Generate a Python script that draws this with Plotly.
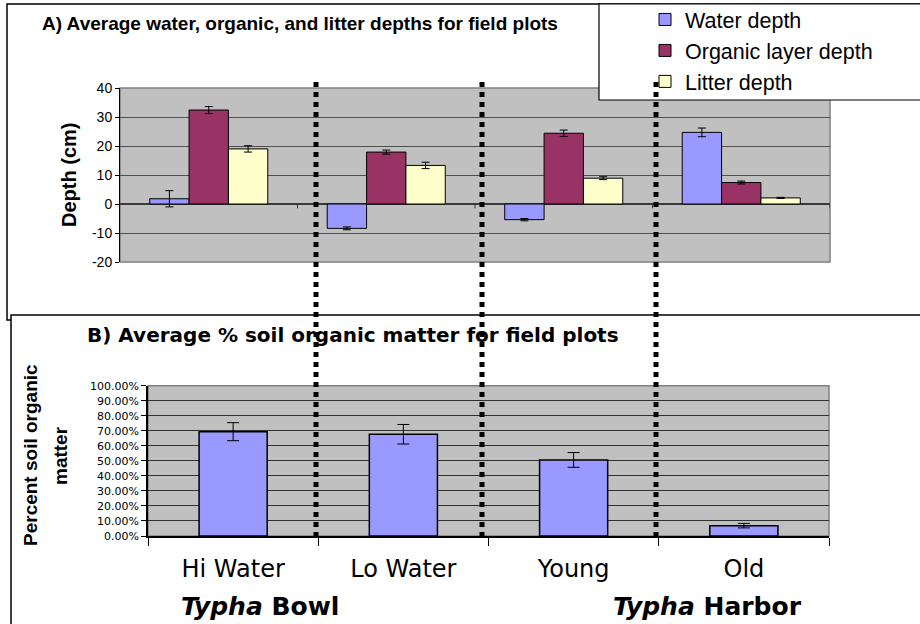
import plotly.graph_objects as go

# Field plot sites
categories = ["Hi Water", "Lo Water", "Young", "Old"]

# A) depths (cm) with error bars
water_depth = [1.8, -8.4, -5.4, 24.7]
water_err = [2.8, 0.5, 0.4, 1.5]
organic_depth = [32.4, 17.9, 24.4, 7.4]
organic_err = [1.2, 0.7, 1.1, 0.5]
litter_depth = [19.0, 13.3, 8.9, 2.1]
litter_err = [1.1, 1.1, 0.5, 0.2]
depth_ticks = [-20, -10, 0, 10, 20, 30, 40]
depth_tick_labels = ["-20", "-10", "0", "10", "20", "30", "40"]

# B) percent soil organic matter (fraction)
soil_om = [0.694, 0.677, 0.506, 0.069]
soil_om_err = [0.060, 0.065, 0.049, 0.015]

# Site groups written under the bottom panel
site_groups = ["Typha Bowl", "Typha Harbor"]

W, H = 920, 624


def fx(x):
    return x / W


def fy(y):
    return 1 - y / H


ARIAL = "Liberation Sans, Arial, sans-serif"
WIDE = "DejaVu Sans, Verdana, sans-serif"

fig = go.Figure()


def err(a, w):
    return dict(type="data", array=a, visible=True, color="black", thickness=1, width=w)


series = [
    ("Water depth", water_depth, water_err, "#9999FF"),
    ("Organic layer depth", organic_depth, organic_err, "#993366"),
    ("Litter depth", litter_depth, litter_err, "#FFFFCC"),
]
for name, vals, e, col in series:
    fig.add_trace(go.Bar(
        x=categories, y=vals, name=name, error_y=err(e, 4),
        marker=dict(color=col, line=dict(color="black", width=1)),
        xaxis="x", yaxis="y",
    ))

fig.add_trace(go.Bar(
    x=categories, y=soil_om, name="% soil organic matter", showlegend=False,
    width=0.4, error_y=err(soil_om_err, 6),
    marker=dict(color="#9999FF", line=dict(color="black", width=1.5)),
    xaxis="x2", yaxis="y2",
))

fig.update_layout(
    width=W, height=H,
    margin=dict(l=0, r=0, t=0, b=0, autoexpand=False),
    paper_bgcolor="white",
    plot_bgcolor="#C0C0C0",
    barmode="group", bargap=0.335, bargroupgap=0,
    font=dict(family=ARIAL, color="black"),
    showlegend=True,
    legend=dict(
        x=fx(645), y=fy(-1), xanchor="left", yanchor="top",
        bgcolor="rgba(0,0,0,0)", borderwidth=0,
        font=dict(family=ARIAL, size=21.5, color="black"),
        traceorder="normal",
    ),
    xaxis=dict(
        domain=[fx(120), fx(830)], anchor="y", type="category",
        categoryorder="array", categoryarray=categories,
        range=[-0.5, len(categories) - 0.5], automargin=False,
        showticklabels=False, showgrid=False, ticks="", zeroline=False,
    ),
    yaxis=dict(
        domain=[fy(262), fy(88)], anchor="x", automargin=False,
        range=[-20, 40], tickmode="array",
        tickvals=depth_ticks, ticktext=depth_tick_labels,
        showgrid=True, gridcolor="#505050", gridwidth=1,
        zeroline=True, zerolinecolor="#3a3a3a", zerolinewidth=1.5,
        showline=True, linecolor="black", linewidth=1,
        ticks="outside", ticklen=4, tickcolor="black",
        tickfont=dict(family=ARIAL, size=14, color="black"),
    ),
    xaxis2=dict(
        domain=[fx(148), fx(829)], anchor="y2", type="category",
        categoryorder="array", categoryarray=categories,
        range=[-0.5, len(categories) - 0.5], automargin=False,
        tickson="boundaries", ticks="outside", ticklen=8, tickcolor="black",
        showline=True, linecolor="black", linewidth=1.5,
        showgrid=False, zeroline=False,
        tickfont=dict(family=WIDE, size=24, color="black"),
        ticklabelstandoff=10,
    ),
    yaxis2=dict(
        domain=[fy(536), fy(385.7)], anchor="x2", automargin=False,
        range=[0, 1], dtick=0.1, tick0=0, tickformat=".2%",
        showgrid=True, gridcolor="#303030", gridwidth=1,
        zeroline=False,
        showline=True, linecolor="black", linewidth=1.5,
        ticks="outside", ticklen=5, tickcolor="black",
        tickfont=dict(family=WIDE, size=11, color="black"),
    ),
)

shapes = []
# grey plot-area borders
for xr, yr in (("x", "y"), ("x2", "y2")):
    shapes.append(dict(type="rect", xref=f"{xr} domain", yref=f"{yr} domain",
                       x0=0, x1=1, y0=0, y1=1, layer="below",
                       line=dict(color="#808080", width=1.5)))
# small ticks on the zero line of panel A at category boundaries
for i in range(1, len(categories) + 1):
    shapes.append(dict(type="line", xref="x", yref="y", x0=i - 0.5, x1=i - 0.5,
                       y0=0, y1=-1.5, line=dict(color="#303030", width=1)))
# panel frames
shapes.append(dict(type="path", xref="paper", yref="paper",
                   path=f"M {fx(11)},{fy(320)} L {fx(7)},{fy(320)} L {fx(7)},{fy(4)} L {fx(925)},{fy(4)}",
                   line=dict(color="black", width=1.5)))
shapes.append(dict(type="path", xref="paper", yref="paper",
                   path=f"M {fx(11)},{fy(630)} L {fx(11)},{fy(315)} L {fx(925)},{fy(315)}",
                   line=dict(color="black", width=1.5)))
# legend box
shapes.append(dict(type="rect", xref="paper", yref="paper",
                   x0=fx(599), x1=fx(925), y0=fy(100), y1=fy(4),
                   fillcolor="white", line=dict(color="black", width=1.2)))
# dotted dividers between sites
for xp in (316, 482, 656):
    shapes.append(dict(type="line", xref="paper", yref="paper",
                       x0=fx(xp), x1=fx(xp), y0=fy(82), y1=fy(536),
                       line=dict(color="black", width=5, dash="5px,5px")))
fig.update_layout(shapes=shapes)

annotations = [
    dict(text="<b>A) Average water, organic, and litter depths for field plots</b>",
         x=fx(40), y=fy(24), xanchor="left", yanchor="middle",
         font=dict(family=ARIAL, size=19, color="black")),
    dict(text="<b>B) Average % soil organic matter for field plots</b>",
         x=fx(85), y=fy(335), xanchor="left", yanchor="middle",
         font=dict(family=WIDE, size=20, color="black")),
    dict(text="<b>Depth (cm)</b>", textangle=-90,
         x=fx(69), y=fy(175), xanchor="center", yanchor="middle",
         font=dict(family=ARIAL, size=20, color="black")),
    dict(text="<b>Percent soil organic</b>", textangle=-90,
         x=fx(30), y=fy(455), xanchor="center", yanchor="middle",
         font=dict(family=ARIAL, size=19, color="black")),
    dict(text="<b>matter</b>", textangle=-90,
         x=fx(60), y=fy(456), xanchor="center", yanchor="middle",
         font=dict(family=ARIAL, size=19, color="black")),
]
for label, xc in zip(site_groups, (260, 707)):
    genus, place = label.split(" ", 1)
    annotations.append(dict(
        text=f"<b><i>{genus}</i> {place}</b>",
        x=fx(xc), y=fy(606), xanchor="center", yanchor="middle",
        font=dict(family=WIDE, size=25, color="black")))
for a in annotations:
    a.update(xref="paper", yref="paper", showarrow=False)
fig.update_layout(annotations=annotations)

fig.write_html("out.html")
